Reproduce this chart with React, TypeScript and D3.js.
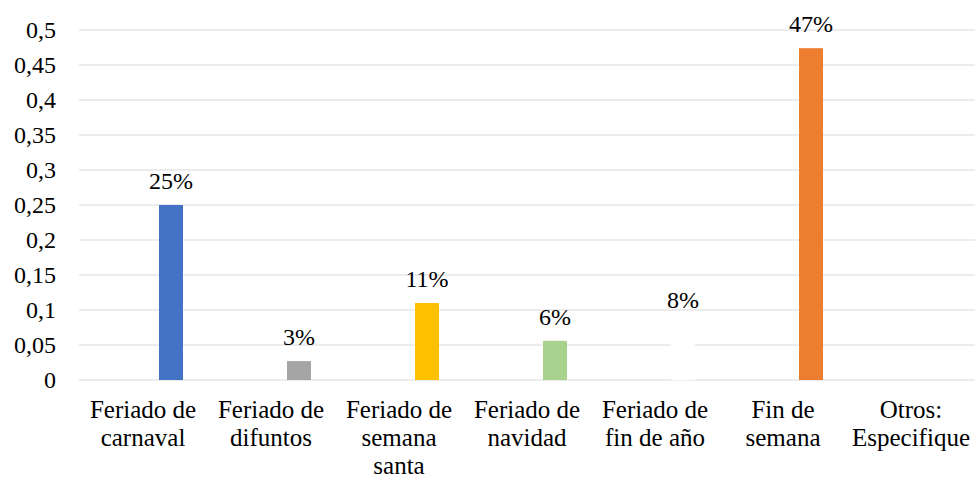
import * as d3 from "d3";

// ── Data ──────────────────────────────────────────────────────────────────────

const CATEGORIES = [
  ["Feriado de", "carnaval"],
  ["Feriado de", "difuntos"],
  ["Feriado de", "semana", "santa"],
  ["Feriado de", "navidad"],
  ["Feriado de", "fin de año"],
  ["Fin de", "semana"],
  ["Otros:", "Especifique"],
];
const VALUES = [0.25, 0.027, 0.11, 0.056, 0.08, 0.474, 0];
const COLORS = ["#4472C4", "#A5A5A5", "#FFC000", "#A9D18E", "#FFFFFF", "#ED7D31", "#5B9BD5"];
const Y_TICKS = [0, 0.05, 0.1, 0.15, 0.2, 0.25, 0.3, 0.35, 0.4, 0.45, 0.5];

// ── Layout ────────────────────────────────────────────────────────────────────

const W = 976;
const H = 481;
const PLOT = { left: 79, right: 975, top: 30, bottom: 380 };
const BAR_W = 24;
const BAR_OFFSET = 28;
const FONT = "'Liberation Serif', 'Times New Roman', serif";

export default function App() {
  const keys = CATEGORIES.map((_, i) => String(i));
  const x = d3.scaleBand().domain(keys).range([PLOT.left, PLOT.right]);
  const y = d3.scaleLinear().domain([0, 0.5]).range([PLOT.bottom, PLOT.top]);
  const fmtTick = (v: number) => String(+v.toFixed(2)).replace(".", ",");
  const fmtPct = d3.format(".0%");

  return (
    <div style={{ position: "fixed", left: 0, top: 0 }}>
      <svg
        width={W}
        height={H}
        style={{ display: "block", background: "#fff", fontFamily: FONT }}
      >
        {/* Grid lines */}
        {Y_TICKS.map((t) => (
          <line
            key={"g" + t}
            x1={PLOT.left}
            x2={PLOT.right}
            y1={y(t)}
            y2={y(t)}
            stroke="#D9D9D9"
            strokeWidth={1}
          />
        ))}

        {/* Y tick labels */}
        {Y_TICKS.map((t) => (
          <text
            key={"t" + t}
            x={56}
            y={y(t)}
            dy="0.34em"
            textAnchor="end"
            fontSize={24}
            fill="#000"
          >
            {fmtTick(t)}
          </text>
        ))}

        {/* Bars + labels */}
        {VALUES.map((v, i) => {
          const cx = (x(String(i)) ?? 0) + x.bandwidth() / 2 + BAR_OFFSET;
          return (
            <g key={"b" + i}>
              {v > 0 && (
                <rect
                  x={cx - BAR_W / 2}
                  y={y(v)}
                  width={BAR_W}
                  height={y(0) - y(v)}
                  fill={COLORS[i]}
                />
              )}
              {v > 0 && (
                <text
                  x={cx}
                  y={y(v) - 16}
                  textAnchor="middle"
                  fontSize={24}
                  fill="#000"
                >
                  {fmtPct(v)}
                </text>
              )}
            </g>
          );
        })}

        {/* Category labels */}
        {CATEGORIES.map((lines, i) => {
          const cx = (x(String(i)) ?? 0) + x.bandwidth() / 2;
          return (
            <text
              key={"c" + i}
              x={cx}
              y={418}
              textAnchor="middle"
              fontSize={25}
              fill="#000"
            >
              {lines.map((l, j) => (
                <tspan key={j} x={cx} dy={j === 0 ? 0 : 28}>
                  {l}
                </tspan>
              ))}
            </text>
          );
        })}
      </svg>
    </div>
  );
}
